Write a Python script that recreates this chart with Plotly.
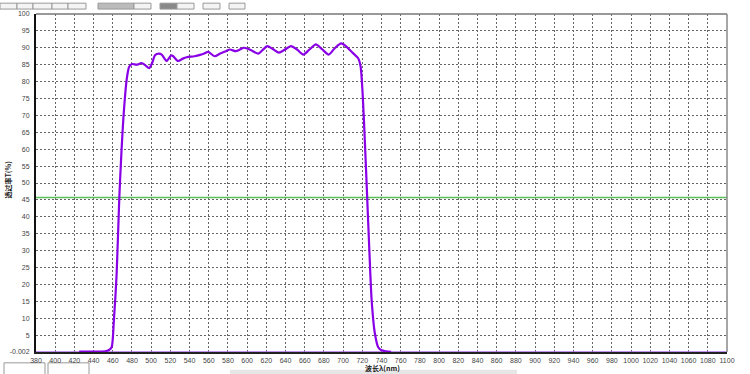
import plotly.graph_objects as go

# ---- data ----
wavelength = [425, 440, 452, 456, 458.8, 461, 464, 466.8, 469, 471.7, 474.5, 477, 480,
              485, 490, 494, 498, 501, 504, 508, 511, 516, 521, 523, 528, 533, 537,
              545, 551, 555, 559.5, 566, 572, 578, 582, 588, 592, 596, 600, 606,
              611.6, 616, 621, 626, 633, 639, 645.6, 652, 658.5, 665, 671.7, 678,
              685, 691, 698, 703.6, 710, 715.7, 718.2, 720.3, 722.7, 725.1, 727.2,
              729.7, 733, 736.6, 740, 745, 750]
transmittance = [0.1, 0.1, 0.2, 0.6, 1.4, 8.6, 23, 45.6, 59, 71.8, 80.6, 84.3, 85.2,
                 85.0, 85.5, 84.8, 84.0, 85.5, 87.8, 88.3, 88.0, 86.1, 87.8, 87.5, 86.1,
                 86.8, 87.2, 87.5, 87.9, 88.3, 88.8, 87.5, 88.3, 89.0, 89.5, 89.0, 89.4,
                 90.0, 89.8, 89.0, 88.3, 89.3, 90.5, 89.8, 88.6, 89.4, 90.5, 89.5, 88.0,
                 89.5, 91.0, 89.6, 88.0, 89.8, 91.3, 90.3, 88.5, 86.9, 84.5, 76.7, 62,
                 45.6, 31, 15.5, 5.7, 1.4, 0.5, 0.2, 0.05]
baseline_x = [380, 1100]
baseline_y = [0, 0]
half_level = 45.7

x_ticks = list(range(380, 1101, 20))
y_ticks = [-0.002] + list(range(5, 101, 5))
y_ticktext = ["-0.002"] + [str(v) for v in range(5, 101, 5)]

# ---- layout geometry (pixels) ----
W, H = 750, 374
L, R, T, B = 36, 23, 10, 21
PW, PH = W - L - R, H - T - B


def px(x):
    return (x - L) / PW


def py(y):
    return (H - B - y) / PH


fig = go.Figure()
fig.add_trace(go.Scatter(x=baseline_x, y=baseline_y, mode="lines",
                         line=dict(color="rgb(175,110,235)", width=1.5),
                         hoverinfo="skip", showlegend=False))
fig.add_trace(go.Scatter(x=[baseline_x[0], baseline_x[1]], y=[half_level, half_level],
                         mode="lines", line=dict(color="rgb(90,190,90)", width=1.5),
                         showlegend=False))
fig.add_trace(go.Scatter(x=wavelength, y=transmittance, mode="lines",
                         line=dict(color="rgb(138,0,230)", width=2.2, shape="spline",
                                   smoothing=0.7),
                         showlegend=False))

tick_font = dict(family="Liberation Sans, Arial, sans-serif", size=7, color="#444")

fig.update_layout(
    width=W, height=H,
    margin=dict(l=L, r=R, t=T, b=B, pad=0),
    paper_bgcolor="white", plot_bgcolor="white",
    showlegend=False,
    xaxis=dict(range=[380, 1100], tickvals=x_ticks, ticks="", showgrid=True,
               gridcolor="#666", gridwidth=1, griddash="2px,2px",
               showline=True, linecolor="#222", linewidth=2, zeroline=False,
               tickfont=tick_font, ticklabelstandoff=1),
    yaxis=dict(range=[-0.002, 100], tickvals=y_ticks, ticktext=y_ticktext, ticks="",
               showgrid=True, gridcolor="#666", gridwidth=1, griddash="2px,2px",
               showline=True, linecolor="#111", linewidth=2, zeroline=False,
               tickfont=tick_font, ticklabelstandoff=3),
    annotations=[
        dict(text="<b>透过率T(%)</b>", x=px(8), y=py(178), xref="paper", yref="paper",
             xanchor="center", yanchor="middle",
             showarrow=False, textangle=-90,
             font=dict(family="Noto Sans CJK SC", size=7, color="#222")),
        dict(text="<b>波长λ(nm)</b>", x=px(382), y=py(369.5), xref="paper", yref="paper",
             xanchor="center", yanchor="middle",
             showarrow=False,
             font=dict(family="Noto Sans CJK SC", size=7, color="#222")),
    ],
)

shapes = []
# top and right frame lines (gray)
shapes.append(dict(type="line", xref="paper", yref="paper", x0=0, x1=1, y0=1, y1=1,
                   line=dict(color="#777", width=1.5)))
shapes.append(dict(type="line", xref="paper", yref="paper", x0=1, x1=1, y0=0, y1=1,
                   line=dict(color="#888", width=1.5)))
# window UI remnants at top
for x0, x1, fill in [(0, 17, "#f4f4f4"), (17, 33, "#f4f4f4"), (33, 52, "#f4f4f4"),
                     (52, 68, "#f4f4f4"), (68, 86, "#f4f4f4"), (98, 134, "#bbbbbb"),
                     (134, 151, "#f4f4f4"), (160, 177, "#888888"), (177, 194, "#f4f4f4"),
                     (203, 220, "#f4f4f4"), (229, 245, "#f4f4f4")]:
    shapes.append(dict(type="rect", xref="paper", yref="paper", layer="below",
                       x0=px(x0), x1=px(x1), y0=py(5), y1=py(-1),
                       line=dict(color="#999", width=1), fillcolor=fill))
# bottom-left boxes
for x0, x1 in [(4, 45), (48, 89)]:
    shapes.append(dict(type="rect", xref="paper", yref="paper", layer="below",
                       x0=px(x0), x1=px(x1), y0=py(376), y1=py(364),
                       line=dict(color="#999", width=1), fillcolor="white"))
# bottom gray bar
shapes.append(dict(type="rect", xref="paper", yref="paper", layer="below",
                   x0=px(230), x1=px(517), y0=py(376), y1=py(371),
                   line=dict(width=0), fillcolor="#e6e6e6"))
fig.update_layout(shapes=shapes)

fig.write_html("out.html")
